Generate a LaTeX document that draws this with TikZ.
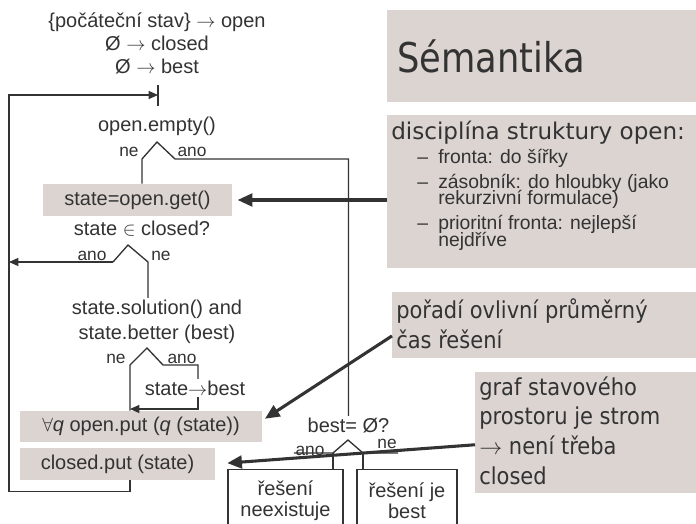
\documentclass[tikz,border=0pt]{standalone}
\usepackage{fontspec}
\setmainfont{Liberation Sans}
\newfontfamily\slidefont{DejaVu Sans}
\newfontfamily\narrowfont[FakeStretch=0.9]{DejaVu Sans}
\newfontfamily\titlefont[FakeStretch=0.86]{DejaVu Sans}
\usepackage{xcolor}
\definecolor{ink}{HTML}{333333}
\definecolor{slidegrey}{HTML}{DBD4D1}
\usetikzlibrary{arrows.meta,positioning}
\newcommand{\dashitem}[1]{\hspace*{19.5pt}\makebox[15.75pt][l]{–}#1}
\newcommand{\dashcont}[1]{\hspace*{35.25pt}#1}

\begin{document}
\begin{tikzpicture}[x=0.75pt, y=-0.75pt,
  every node/.style={text=ink, font=\fontsize{15}{17.25}\selectfont, inner sep=1pt},
  codetxt/.style={anchor=base},
  branchlbl/.style={anchor=base, font=\fontsize{13}{15}\selectfont},
  thinline/.style={draw=ink, line width=1pt},
  thinarrow/.style={thinline, -{Triangle[length=7pt,width=6pt]}},
  pointer/.style={draw=ink, line width=2.3pt, -{Triangle[length=11pt,width=9.5pt]}},
  codebox/.style={fill=slidegrey, minimum height=24pt, inner sep=0pt},
  resultbox/.style={draw=ink, line width=1pt, fill=white, anchor=north, align=center,
    minimum height=46pt, font=\fontsize{15}{15.75}\selectfont},
  slidebox/.style={fill=slidegrey, anchor=north west, inner sep=0pt},
  slidetxt/.style={anchor=base west, inner sep=0pt}]
  \useasboundingbox (0,0) rectangle (696,524);
  \clip (0,0) rectangle (696,524);
  \fill[white] (0,0) rectangle (696,524);

  % Slide boxes
  \node[slidebox, minimum width=240pt, minimum height=69pt] (titlebox) at (387,10) {};
  \node[slidebox, minimum width=240pt, minimum height=114.75pt] (discbox) at (387,115) {};
  \node[slidebox, minimum width=236pt, minimum height=49.5pt] (ordbox) at (392,292) {};
  \node[slidebox, minimum width=172.5pt, minimum height=90.75pt] (grafbox) at (475,372) {};

  % Slide texts
  \node[slidetxt, font=\titlefont\fontsize{30.75}{36}\selectfont] (title) at (397,73) {Sémantika};
  \node[slidetxt] (disctxt) at (391,140) {\begin{minipage}[t]{230pt}
    \lineskiplimit=-\maxdimen
    {\slidefont\fontsize{17.3}{20}\selectfont disciplína struktury open:\par}
    \vspace{5.5pt}
    {\fontsize{14.5}{12.25}\selectfont
    \dashitem{fronta: do šířky}\par\vspace{6.5pt}
    \dashitem{zásobník: do hloubky (jako}\par
    \dashcont{rekurzivní formulace)}\par\vspace{6.5pt}
    \dashitem{prioritní fronta: nejlepší}\par
    \dashcont{nejdříve}\par}
  \end{minipage}};
  \node[slidetxt] (ordtxt) at (396,318) {\begin{minipage}[t]{230pt}
    \narrowfont\fontsize{17.5}{22.5}\selectfont
    pořadí ovlivní průměrný\\čas řešení
  \end{minipage}};
  \node[slidetxt] (graftxt) at (479,395) {\begin{minipage}[t]{170pt}
    \narrowfont\fontsize{17.5}{22.3}\selectfont
    graf stavového\\prostoru je strom\\$\rightarrow$ není třeba\\closed
  \end{minipage}};

  % Flowchart
  \node[codetxt, align=center] (init) at (157,74) {\{počáteční stav\} $\rightarrow$ open\\Ø $\rightarrow$ closed\\Ø $\rightarrow$ best};
  \node[codetxt] (emptytxt) at (157,132) {open.empty()};
  \node[codebox, minimum width=141.75pt] (getbox) at (137.5,200) {state=open.get()};
  \node[codetxt] (closedq) at (142,235) {state $\in$ closed?};
  \node[codetxt, align=center, font=\fontsize{15}{18.75}\selectfont] (soltxt) at (157,339) {state.solution() and\\state.better (best)};
  \node[codetxt] (tobest) at (195,395) {state$\rightarrow$best};
  \node[codebox, minimum width=181.5pt, minimum height=23.25pt] (putbox) at (141,426.5) {$\forall$\textit{q} open.put (\textit{q} (state))};
  \node[codebox, minimum width=146.25pt] (closedbox) at (117.5,464) {closed.put (state)};
  \node[codetxt] (bestq) at (348.5,432) {best= Ø?};
  \node[resultbox, minimum width=86.25pt] (noexist) at (285.5,469) {řešení\\neexistuje};
  \node[resultbox, minimum width=75pt] (bestbox) at (407,469) {řešení je\\best};

  % Branch labels
  \node[branchlbl] (ne1) at (129,157) {ne};
  \node[branchlbl] (ano1) at (192,157) {ano};
  \node[branchlbl] (ano2) at (92,260) {ano};
  \node[branchlbl] (ne2) at (161,260) {ne};
  \node[branchlbl] (ne3) at (116,363) {ne};
  \node[branchlbl] (ano3) at (182,363) {ano};
  \node[branchlbl] (ano4) at (310,455) {ano};
  \node[branchlbl] (ne4) at (387,448) {ne};

  % Decision points
  \coordinate (mtop) at (158,85);
  \coordinate (merge) at (158,95);
  \coordinate (mbot) at (158,106);
  \coordinate (railtop) at (9,95);
  \coordinate (d1l) at (142,159);
  \coordinate (d1p) at (157,142);
  \coordinate (d1r) at (175,159);
  \coordinate (d2l) at (113,262);
  \coordinate (d2p) at (128,245);
  \coordinate (d2r) at (148,262);
  \coordinate (d3l) at (130,365);
  \coordinate (d3p) at (147,348);
  \coordinate (d3r) at (163,365);
  \coordinate (d3b) at (198,365);
  \coordinate (d3turn) at (198,409);
  \coordinate (d3end) at (130,409);
  \coordinate (d4l) at (333,453);
  \coordinate (d4p) at (348,440);
  \coordinate (d4r) at (363,453);

  % Connectors
  \draw[thinline] (mtop) -- (mbot);
  \draw[thinarrow] (d3l |- closedbox.south) -- ++(0,11) -| (railtop) -- (merge);
  \draw[thinline] (d1l |- getbox.north) -- (d1l) -- (d1p) -- (d1r) -| (bestq.north);
  \draw[thinline] (d2l) -- (d2p) -- (d2r) -- (d2r |- soltxt.north);
  \draw[thinarrow] (d2l) -- (d2l -| railtop);
  \draw[thinline] (d3l |- putbox.north) -- (d3l) -- (d3p) -- (d3r) -- (d3b) -- (d3b |- tobest.north);
  \draw[thinarrow] (d3b |- tobest.south) -- (d3turn) -- (d3end);
  \draw[thinline] (d4l -| ano4.west) -- (d4l) -- (d4p) -- (d4r) -- (d4r -| ne4.east);
  \draw[thinline] (d4l) -- (d4l |- noexist.north);
  \draw[thinline] (d4r) -- (d4r |- bestbox.north);

  % Pointers from the notes
  \draw[pointer, shorten >=4pt] (getbox.east -| discbox.west) -- (getbox.east);
  \draw[pointer] ([yshift=-8pt]ordbox.west) -- ([xshift=2pt,yshift=-6pt]putbox.north east);
  \draw[pointer, shorten >=9pt] ([yshift=-9pt]grafbox.west) -- (closedbox.east);
\end{tikzpicture}
\end{document}
